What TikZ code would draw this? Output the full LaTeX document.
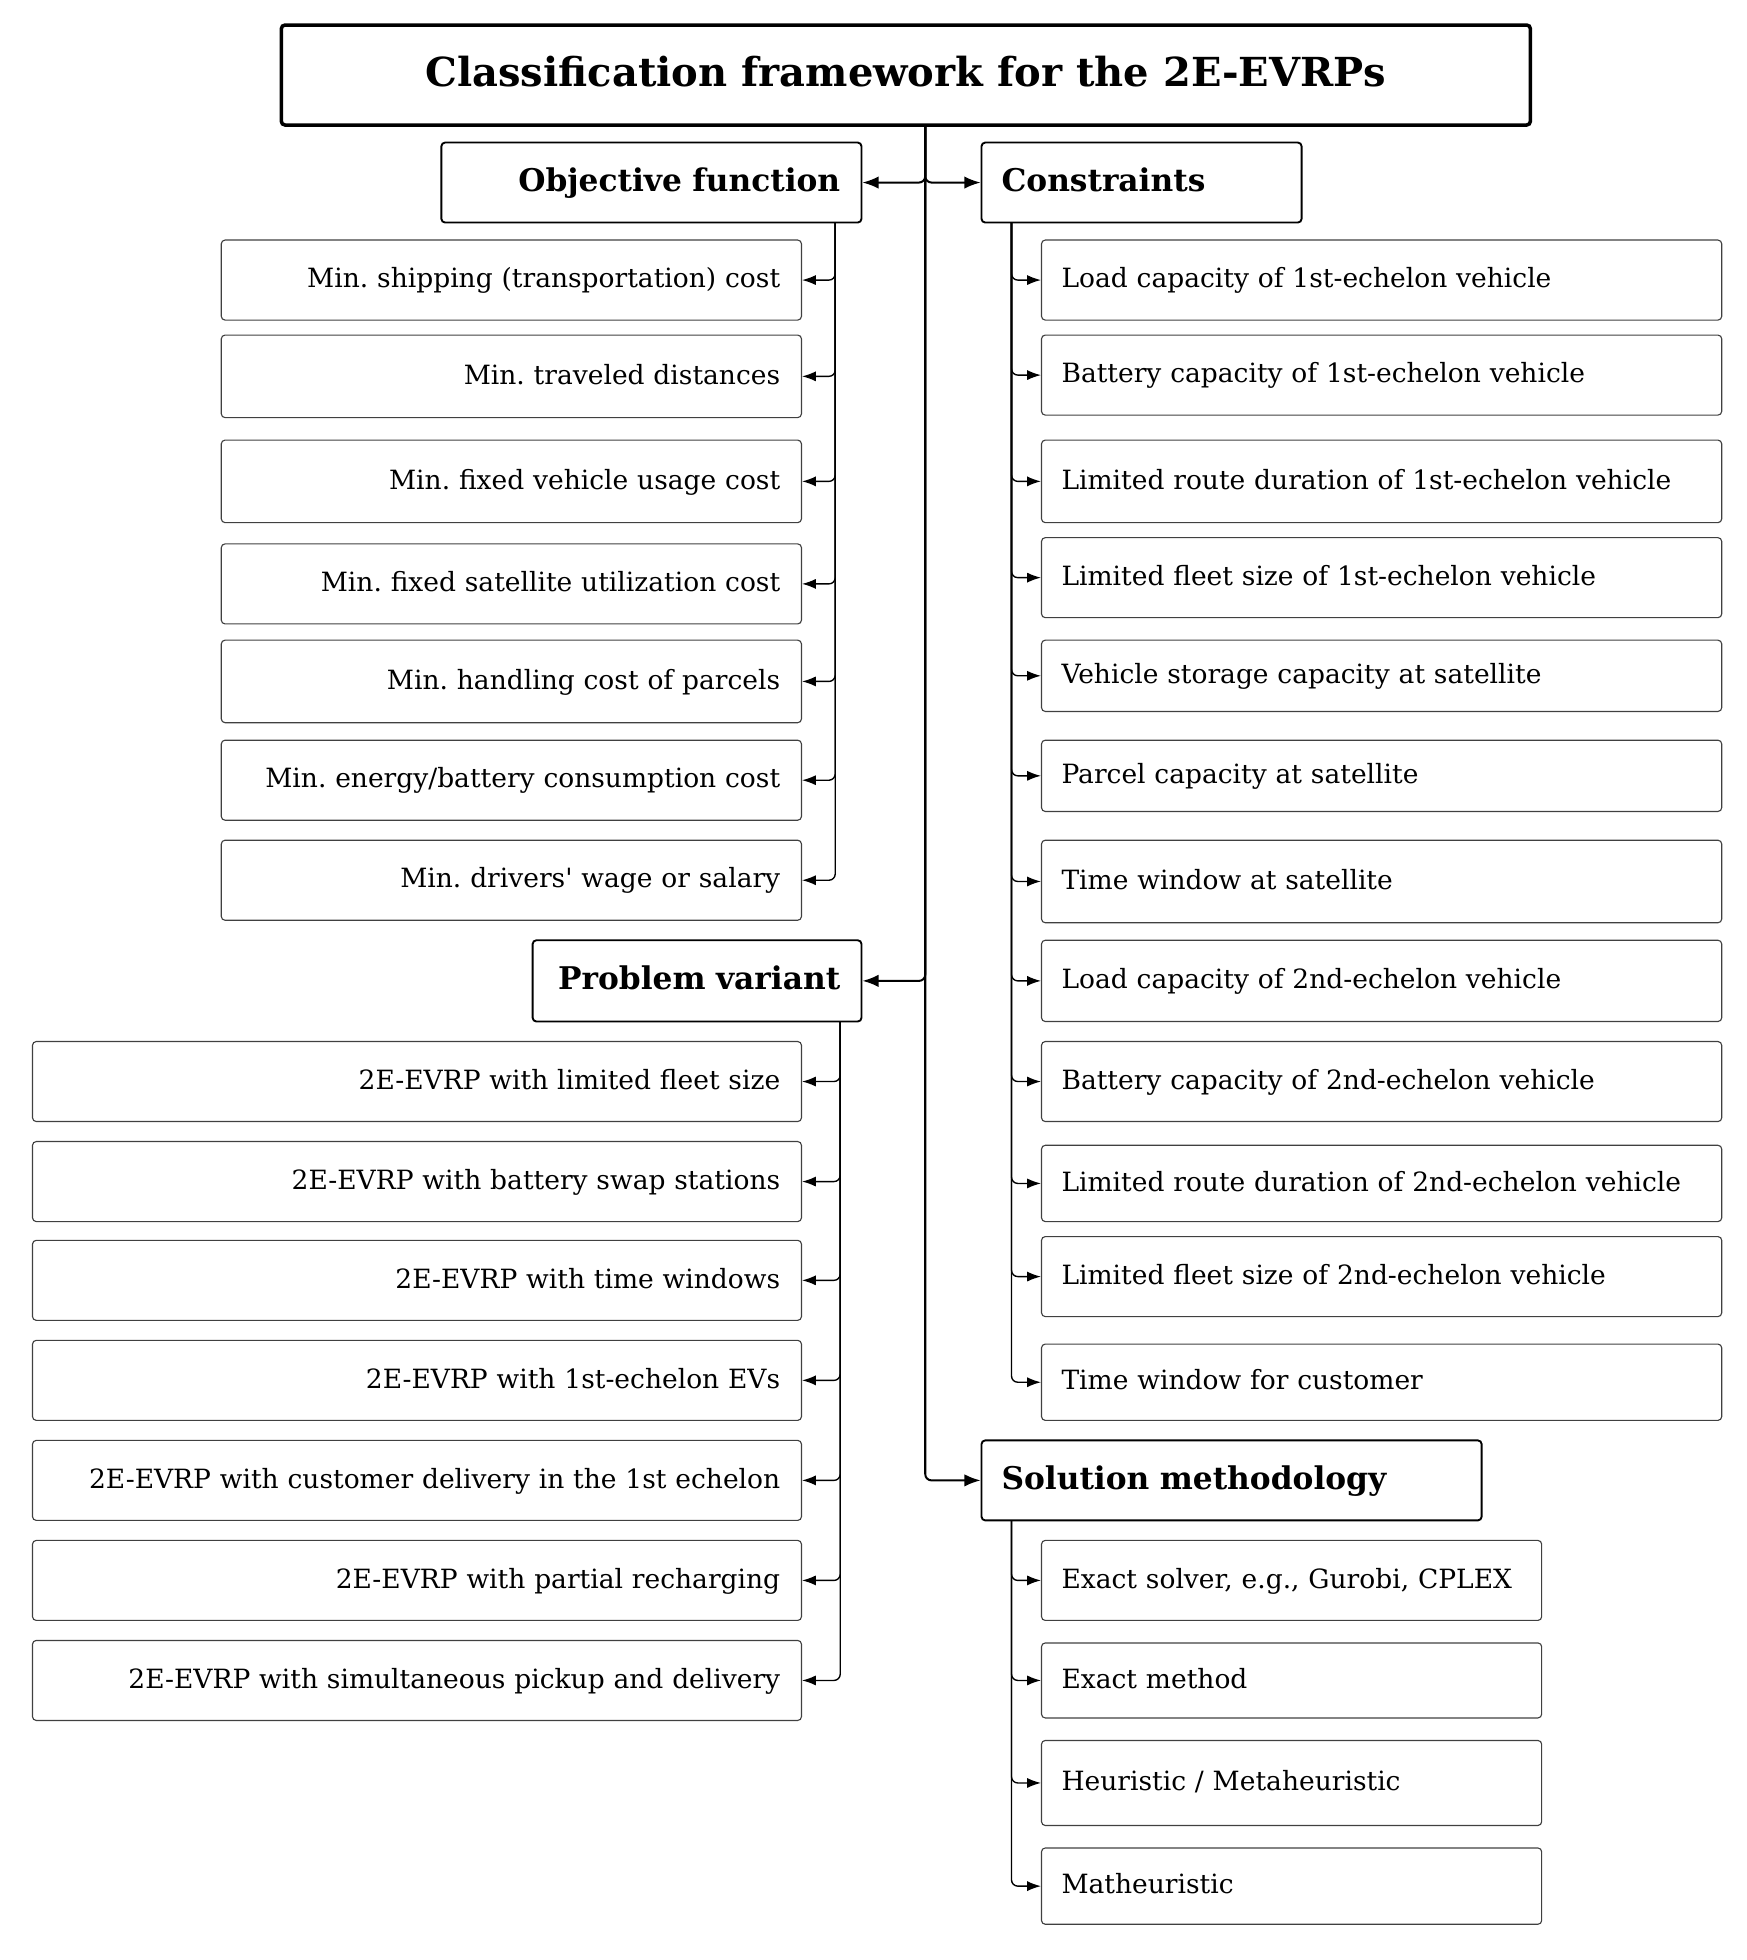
\documentclass[tikz,border=0pt]{standalone}
\usepackage{fontspec}
\setmainfont{DejaVu Serif}[Ligatures=TeXOff]
\usetikzlibrary{arrows.meta}
\begin{document}
\frenchspacing
\begin{tikzpicture}[x=1pt,y=-1pt,
  titlebox/.style={draw=black, line width=2.8pt, rounded corners=3pt, inner sep=0pt,
    font=\fontsize{32}{36}\selectfont\bfseries, text height=25pt, text depth=6.8pt},
  headR/.style={draw=black, line width=1.5pt, rounded corners=3pt, inner xsep=17pt, inner ysep=0pt,
    font=\fontsize{25}{29}\selectfont\bfseries, align=right, text height=19.5pt, text depth=5pt},
  headL/.style={headR, inner xsep=16pt, align=left},
  itemR/.style={draw=black!75, line width=0.9pt, rounded corners=3pt, inner xsep=17pt, inner ysep=0pt,
    font=\fontsize{21.2}{25}\selectfont, align=right, text height=16.5pt, text depth=4.2pt},
  itemL/.style={itemR, inner xsep=16pt, align=left},
  conn/.style={draw=black, line width=1.1pt, rounded corners=5pt, -{Latex[length=11pt,width=8pt]}},
  trunk/.style={draw=black, line width=1.6pt, rounded corners=5pt, -{Latex[length=13pt,width=10pt]}},
]
\useasboundingbox (0,0) rectangle (1397,1567.6);

% title
\node[titlebox, minimum width=999pt, minimum height=80pt] (title) at (724.5,60) {Classification framework for the 2E-EVRPs};

% headers
\node[headR, text width=302pt, minimum height=64pt] (obj) at (521,146) {Objective function};
\node[headL, text width=224pt, minimum height=64pt] (con) at (913,146) {Constraints};
\node[headR, text width=229pt, minimum height=65pt] (pv) at (557.5,784.5) {Problem variant};
\node[headL, text width=368pt, minimum height=64pt] (sm) at (985,1184) {Solution methodology};

% objective items
\tikzset{ow/.style={itemR, text width=430pt}}
\node[ow, minimum height=64pt] (o1) at (409,224) {Min. shipping (transportation) cost};
\node[ow, minimum height=66pt] (o2) at (409,301) {Min. traveled distances};
\node[ow, minimum height=66pt] (o3) at (409,385) {Min. fixed vehicle usage cost};
\node[ow, minimum height=64pt] (o4) at (409,467) {Min. fixed satellite utilization cost};
\node[ow, minimum height=66pt] (o5) at (409,545) {Min. handling cost of parcels};
\node[ow, minimum height=64pt] (o6) at (409,624) {Min. energy/battery consumption cost};
\node[ow, minimum height=64pt] (o7) at (409,704) {Min. drivers' wage or salary};

% problem variant items
\tikzset{pw/.style={itemR, text width=581pt, minimum height=64pt}}
\node[pw] (p1) at (333.5,865) {2E-EVRP with limited fleet size};
\node[pw] (p2) at (333.5,945) {2E-EVRP with battery swap stations};
\node[pw] (p3) at (333.5,1024) {2E-EVRP with time windows};
\node[pw] (p4) at (333.5,1104) {2E-EVRP with 1st-echelon EVs};
\node[pw] (p5) at (333.5,1184) {2E-EVRP with customer delivery in the 1st echelon};
\node[pw] (p6) at (333.5,1264) {2E-EVRP with partial recharging};
\node[pw] (p7) at (333.5,1344) {2E-EVRP with simultaneous pickup and delivery};

% constraint items
\tikzset{cw/.style={itemL, text width=512pt}}
\node[cw, minimum height=64pt] (c1) at (1105,224) {Load capacity of 1st-echelon vehicle};
\node[cw, minimum height=64pt] (c2) at (1105,300) {Battery capacity of 1st-echelon vehicle};
\node[cw, minimum height=66pt] (c3) at (1105,385) {Limited route duration of 1st-echelon vehicle};
\node[cw, minimum height=64pt] (c4) at (1105,462) {Limited fleet size of 1st-echelon vehicle};
\node[cw, minimum height=57pt] (c5) at (1105,540.5) {Vehicle storage capacity at satellite};
\node[cw, minimum height=57pt] (c6) at (1105,620.5) {Parcel capacity at satellite};
\node[cw, minimum height=66pt] (c7) at (1105,705) {Time window at satellite};
\node[cw, minimum height=65pt] (c8) at (1105,784.5) {Load capacity of 2nd-echelon vehicle};
\node[cw, minimum height=64pt] (c9) at (1105,865) {Battery capacity of 2nd-echelon vehicle};
\node[cw, minimum height=61pt] (c10) at (1105,946.5) {Limited route duration of 2nd-echelon vehicle};
\node[cw, minimum height=64pt] (c11) at (1105,1021) {Limited fleet size of 2nd-echelon vehicle};
\node[cw, minimum height=61pt] (c12) at (1105,1105.5) {Time window for customer};

% solution items
\tikzset{sw/.style={itemL, text width=368pt}}
\node[sw, minimum height=64pt] (s1) at (1033,1264) {Exact solver, e.g., Gurobi, CPLEX};
\node[sw, minimum height=60pt] (s2) at (1033,1344) {Exact method};
\node[sw, minimum height=68pt] (s3) at (1033,1426) {Heuristic / Metaheuristic};
\node[sw, minimum height=61pt] (s4) at (1033,1508.5) {Matheuristic};

% trunk
\coordinate (t0) at (740,100);
\draw[trunk] (t0) |- (obj.east);
\draw[trunk] (t0) |- (con.west);
\draw[trunk] (t0) |- (pv.east);
\draw[trunk] (t0) |- (sm.west);

% branch lines
\coordinate (ol) at (668,178);
\coordinate (cl) at (809,178);
\coordinate (pl) at (672,817);
\coordinate (sl) at (809,1216);
\foreach \i in {1,...,7} {\draw[conn] (ol) |- (o\i.east);}
\foreach \i in {1,...,7} {\draw[conn] (pl) |- (p\i.east);}
\foreach \i in {1,...,12} {\draw[conn] (cl) |- (c\i.west);}
\foreach \i in {1,...,4} {\draw[conn] (sl) |- (s\i.west);}
\end{tikzpicture}
\end{document}
